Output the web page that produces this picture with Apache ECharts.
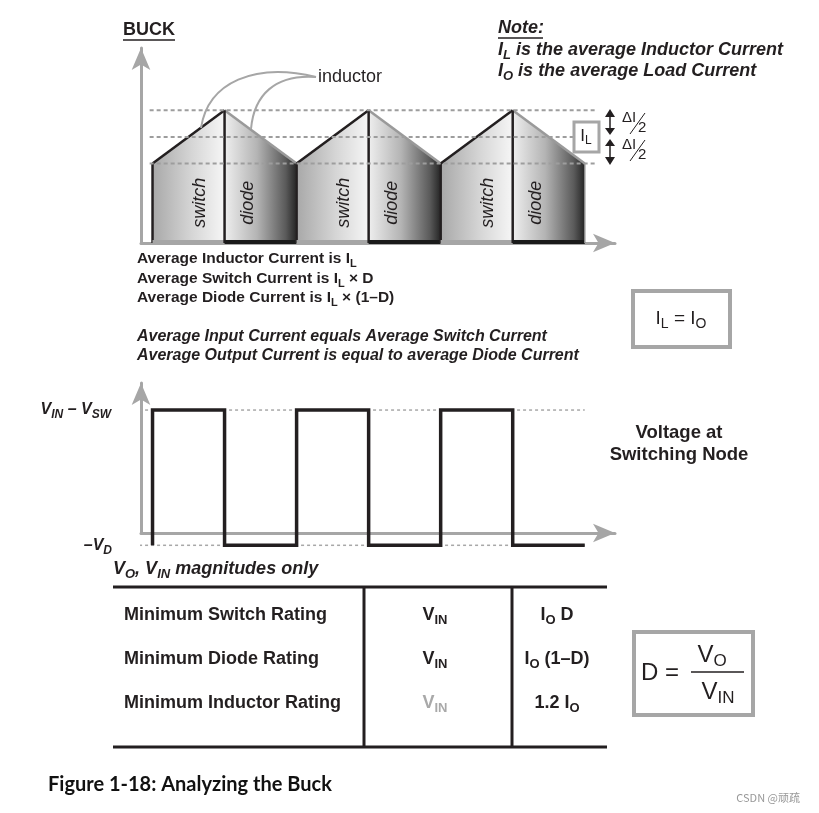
<!DOCTYPE html>
<html lang="en">
<head>
    <meta charset="UTF-8">
    <title>Analyzing the Buck</title>
    <script src="https://cdn.jsdelivr.net/npm/echarts@6/dist/echarts.min.js"></script>
</head>
<style>
    * { margin: 0px; padding: 0px; }
    html, body { width: 100%; height: 100%; overflow: hidden; background: #fff; }
    .container { width: 819px; height: 813px; }
</style>
<body>
    <div class="container"></div>
</body>
<script>
    // inductor current: one segment per switch / diode interval
    const segStart = [0.16, 1.16, 2.16, 3.16, 4.16, 5.16];
    const segEnd   = [1.16, 2.16, 3.16, 4.16, 5.16, 6.16];
    const segFrom  = [3, 5, 3, 5, 3, 5];
    const segTo    = [5, 3, 5, 3, 5, 3];
    const segKind  = ['switch', 'diode', 'switch', 'diode', 'switch', 'diode'];
    const currentLevels = [3, 4, 5];      // IL - dI/2, IL, IL + dI/2
    const currentGuideSpan = [0.12, 6.3];

    // switching node voltage
    const vTime  = [0.16, 0.16, 1.16, 1.16, 2.16, 2.16, 3.16, 3.16, 4.16, 4.16, 5.16, 5.16, 6.16];
    const vLevel = [-1, 10, 10, -1, -1, 10, 10, -1, -1, 10, 10, -1, -1];
    const voltageLevels = [10, -1];       // VIN - VSW, -VD
    const voltageGuideSpan = [-0.36, 6.16];

    // table
    const ratingNames = ['Minimum Switch Rating', 'Minimum Diode Rating', 'Minimum Inductor Rating'];
    const ratingVoltage = ['V{s|IN}', 'V{s|IN}', 'V{s|IN}'];
    const ratingCurrent = ['I{s|O} D', 'I{s|O} (1–D)', '1.2 I{s|O}'];
    const ratingRowsY = [615, 659, 703];

    const FONT = '"Liberation Sans", Arial, sans-serif';
    const INK = '#231f20';
    const GREY = '#a6a6a6';

    function label(x, y, text, size, opts) {
        opts = opts || {};
        let weight = opts.weight || 'normal';
        let fstyle = opts.italic ? 'italic' : 'normal';
        let color = opts.color || INK;
        return {
            type: 'text', x: x, y: y, z: 20,
            style: {
                text: text, fill: color,
                fontSize: size, fontWeight: weight, fontStyle: fstyle, fontFamily: FONT,
                align: opts.align || 'left', verticalAlign: 'middle',
                rich: {
                    s: {
                        fontSize: Math.round(size * 0.72), fontWeight: weight, fontStyle: fstyle,
                        fontFamily: FONT, fill: color, padding: [Math.round(size * 0.55), 0, 0, 0]
                    }
                }
            }
        };
    }
    function line(x1, y1, x2, y2, color, w) {
        return { type: 'line', z: 20, shape: { x1, y1, x2, y2 }, style: { stroke: color, lineWidth: w } };
    }
    function tri(points) {
        return { type: 'polygon', z: 20, shape: { points: points }, style: { fill: INK } };
    }

    let container = document.querySelector('.container');
    let mycharts = echarts.init(container);

    const axisStyle = { color: GREY, width: 3 };
    const hideAxis = { axisTick: { show: false }, axisLabel: { show: false }, splitLine: { show: false } };

    let series = [];

    // current waveform as filled switch / diode slices
    series.push({
        type: 'custom',
        xAxisIndex: 0, yAxisIndex: 0,
        z: 3,
        data: segStart.map((s, i) => [s, segEnd[i], segFrom[i], segTo[i]]),
        renderItem: function (params, api) {
            let i = params.dataIndex;
            let x0 = api.value(0), x1 = api.value(1), y0 = api.value(2), y1 = api.value(3);
            let bl = api.coord([x0, 0]), tl = api.coord([x0, y0]), tr = api.coord([x1, y1]), br = api.coord([x1, 0]);
            let isSwitch = segKind[i] === 'switch';
            let fill = isSwitch
                ? new echarts.graphic.LinearGradient(0, 0, 1, 0, [
                    { offset: 0, color: '#a8a8a8' }, { offset: 0.55, color: '#d6d6d6' }, { offset: 1, color: '#f6f6f6' }])
                : new echarts.graphic.LinearGradient(0, 0, 1, 0, [
                    { offset: 0, color: '#eeeeee' }, { offset: 0.45, color: '#b4b4b4' },
                    { offset: 0.85, color: '#5a5a5a' }, { offset: 1, color: '#252525' }]);
            let lab = isSwitch ? api.coord([x1 - 0.34, 1.52]) : api.coord([x0 + 0.32, 1.52]);
            let children = [
                { type: 'polygon', shape: { points: [bl, tl, tr, br] }, style: { fill: fill } },
                { type: 'line', shape: { x1: tl[0], y1: tl[1], x2: tr[0], y2: tr[1] },
                  style: { stroke: isSwitch ? INK : '#9a9a9a', lineWidth: 2.5 } },
                { type: 'line', shape: { x1: bl[0], y1: bl[1], x2: tl[0], y2: tl[1] },
                  style: { stroke: INK, lineWidth: 2.5 } },
                { type: 'line', shape: { x1: bl[0], y1: bl[1] - 1, x2: br[0], y2: br[1] - 1 },
                  style: { stroke: isSwitch ? GREY : '#1a1a1a', lineWidth: 4 } },
                { type: 'text', x: lab[0], y: lab[1], rotation: Math.PI / 2,
                  style: { text: segKind[i], fill: INK, fontSize: 18, fontStyle: 'italic', fontFamily: FONT,
                           align: 'center', verticalAlign: 'middle' } }
            ];
            if (!isSwitch) {
                children.push({ type: 'line', shape: { x1: br[0], y1: br[1], x2: tr[0], y2: tr[1] },
                    style: { stroke: '#8a8a8a', lineWidth: 1.5 } });
            }
            return { type: 'group', children: children };
        }
    });

    currentLevels.forEach(level => {
        series.push({
            type: 'line', xAxisIndex: 0, yAxisIndex: 0, z: 5,
            data: currentGuideSpan.map(x => [x, level]),
            showSymbol: false, silent: true,
            lineStyle: { color: '#9d9d9d', width: 2, type: [4, 3] }
        });
    });

    voltageLevels.forEach(level => {
        series.push({
            type: 'line', xAxisIndex: 1, yAxisIndex: 1, z: 3, clip: false,
            data: voltageGuideSpan.map(x => [x, level]),
            showSymbol: false, silent: true,
            lineStyle: { color: '#a8a8a8', width: 1.5, type: [3, 3] }
        });
    });

    series.push({
        type: 'line', xAxisIndex: 1, yAxisIndex: 1, z: 6, clip: false,
        data: vTime.map((t, i) => [t, vLevel[i]]),
        showSymbol: false,
        lineStyle: { color: INK, width: 3.5, join: 'miter' }
    });

    // texts, boxes, table
    let graphic = [
        label(123, 30, 'BUCK', 18, { weight: 'bold' }),
        line(123, 40, 175, 40, INK, 1.5),
        label(498, 28, 'Note:', 18, { weight: 'bold', italic: true }),
        line(498, 38, 543, 38, INK, 1.5),
        label(498, 50, 'I{s|L} is the average Inductor Current', 18, { weight: 'bold', italic: true }),
        label(498, 71, 'I{s|O} is the average Load Current', 18, { weight: 'bold', italic: true }),
        label(318, 77, 'inductor', 18),
        { type: 'bezierCurve', z: 20, shape: { x1: 316, y1: 77, cpx1: 255, cpy1: 62, cpx2: 208, cpy2: 82, x2: 201, y2: 128 },
          style: { stroke: GREY, lineWidth: 2, fill: null } },
        { type: 'bezierCurve', z: 20, shape: { x1: 316, y1: 77, cpx1: 275, cpy1: 74, cpx2: 254, cpy2: 95, x2: 251, y2: 129 },
          style: { stroke: GREY, lineWidth: 2, fill: null } },

        // ripple annotation
        { type: 'rect', z: 20, shape: { x: 574, y: 122, width: 25, height: 30 },
          style: { fill: '#fff', stroke: GREY, lineWidth: 3 } },
        label(586, 136, 'I{s|L}', 17, { align: 'center' }),
        line(610, 114, 610, 131, INK, 1.5),
        tri([[605, 117], [615, 117], [610, 109]]),
        tri([[605, 128], [615, 128], [610, 135]]),
        line(610, 142, 610, 160, INK, 1.5),
        tri([[605, 146], [615, 146], [610, 139]]),
        tri([[605, 157], [615, 157], [610, 165]]),
        label(622, 118, 'ΔI', 15),
        line(630, 134, 645, 113, INK, 1),
        label(638, 128, '2', 15),
        label(622, 145, 'ΔI', 15),
        line(630, 161, 645, 140, INK, 1),
        label(638, 155, '2', 15),

        label(137, 259, 'Average Inductor Current is I{s|L}', 15.5, { weight: 'bold' }),
        label(137, 279, 'Average Switch Current is I{s|L} × D', 15.5, { weight: 'bold' }),
        label(137, 298, 'Average Diode Current is I{s|L} × (1–D)', 15.5, { weight: 'bold' }),
        label(137, 337, 'Average Input Current equals Average Switch Current', 16, { weight: 'bold', italic: true }),
        label(137, 356, 'Average Output Current is equal to average Diode Current', 16, { weight: 'bold', italic: true }),

        { type: 'rect', z: 20, shape: { x: 633, y: 291, width: 97, height: 56 },
          style: { fill: '#fff', stroke: GREY, lineWidth: 4 } },
        label(681, 319, 'I{s|L} = I{s|O}', 19, { align: 'center' }),

        label(111, 410, 'V{s|IN} – V{s|SW}', 16, { weight: 'bold', italic: true, align: 'right' }),
        label(112, 546, '–V{s|D}', 16, { weight: 'bold', italic: true, align: 'right' }),
        label(679, 433, 'Voltage at', 18.5, { weight: 'bold', align: 'center' }),
        label(679, 455, 'Switching Node', 18.5, { weight: 'bold', align: 'center' }),
        label(113, 569, 'V{s|O}, V{s|IN} magnitudes only', 18, { weight: 'bold', italic: true }),

        line(113, 587, 607, 587, INK, 3),
        line(113, 747, 607, 747, INK, 3),
        line(364, 587, 364, 747, INK, 3),
        line(512, 587, 512, 747, INK, 3),

        { type: 'rect', z: 20, shape: { x: 634, y: 632, width: 119, height: 83 },
          style: { fill: '#fff', stroke: GREY, lineWidth: 4 } },
        label(641, 673, 'D =', 24),
        line(691, 672, 744, 672, INK, 1.5),
        label(712, 655, 'V{s|O}', 24, { align: 'center' }),
        label(718, 692, 'V{s|IN}', 24, { align: 'center' }),

        { type: 'text', x: 48, y: 785, z: 20,
          style: { text: 'Figure 1-18: Analyzing the Buck', fill: '#111', fontSize: 20, fontWeight: 'bold',
                   fontFamily: 'Lato, sans-serif', verticalAlign: 'middle' } },
        { type: 'text', x: 800, y: 798, z: 20,
          style: { text: 'CSDN @顽疏', fill: '#999', fontSize: 11, fontFamily: '"Noto Sans CJK SC", sans-serif',
                   align: 'right', verticalAlign: 'middle' } }
    ];

    ratingNames.forEach((name, i) => {
        graphic.push(label(124, ratingRowsY[i], name, 18, { weight: 'bold' }));
        graphic.push(label(435, ratingRowsY[i], ratingVoltage[i], 18,
            { weight: 'bold', align: 'center', color: i === 2 ? '#a9a9a9' : INK }));
        graphic.push(label(557, ratingRowsY[i], ratingCurrent[i], 18, { weight: 'bold', align: 'center' }));
    });

    let option = {
        backgroundColor: '#fff',
        animation: false,
        grid: [
            { left: 141, top: 48, width: 474, height: 195 },
            { left: 141, top: 383, width: 474, height: 150 }
        ],
        xAxis: [
            Object.assign({ type: 'value', gridIndex: 0, min: 0, max: 6.58,
                axisLine: { show: true, onZero: true, lineStyle: axisStyle, symbol: ['none', 'arrow'], symbolSize: [14, 22] } }, hideAxis),
            Object.assign({ type: 'value', gridIndex: 1, min: 0, max: 6.58,
                axisLine: { show: true, onZero: true, lineStyle: axisStyle, symbol: ['none', 'arrow'], symbolSize: [14, 22] } }, hideAxis)
        ],
        yAxis: [
            Object.assign({ type: 'value', gridIndex: 0, min: 0, max: 7.35,
                axisLine: { show: true, lineStyle: axisStyle, symbol: ['none', 'arrow'], symbolSize: [14, 22] } }, hideAxis),
            Object.assign({ type: 'value', gridIndex: 1, min: 0, max: 12.2,
                axisLine: { show: true, lineStyle: axisStyle, symbol: ['none', 'arrow'], symbolSize: [14, 22] } }, hideAxis)
        ],
        series,
        graphic
    };
    mycharts.setOption(option);
</script>
</html>
